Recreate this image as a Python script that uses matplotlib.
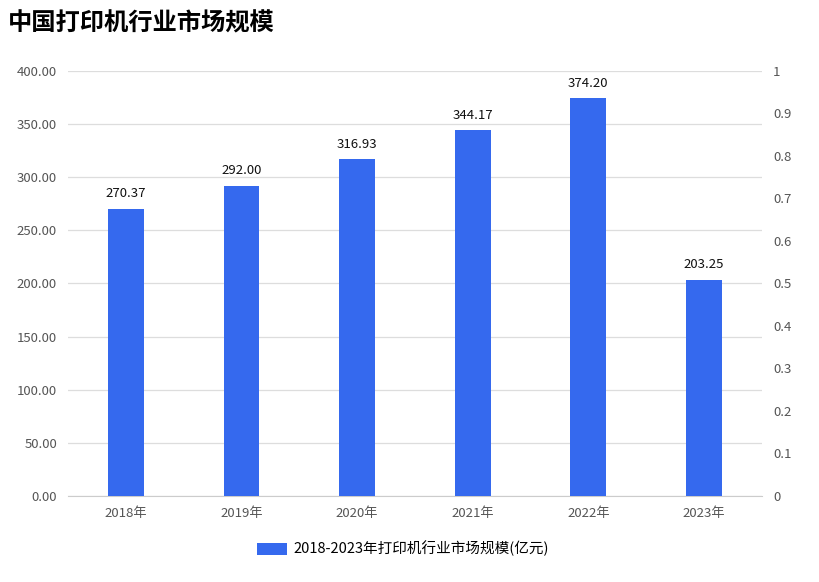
import matplotlib
matplotlib.use('Agg')
import matplotlib.pyplot as plt
import numpy as np

plt.rcParams['font.family'] = ['Noto Sans CJK SC', 'DejaVu Sans']

years = ['2018年', '2019年', '2020年', '2021年', '2022年', '2023年']
market = [270.37, 292.00, 316.93, 344.17, 374.20, 203.25]
series_name = '2018-2023年打印机行业市场规模(亿元)'
title = '中国打印机行业市场规模'

fig = plt.figure(figsize=(8.2, 5.82), dpi=100)
ax = fig.add_axes([0.083, 0.148, 0.846, 0.73])
ax2 = ax.twinx()

x = np.arange(len(years))
bars = ax.bar(x, market, width=0.31, color='#3569EE', zorder=3, label=series_name)
for xi, v in zip(x, market):
    ax.text(xi, v + 8, f'{v:.2f}', ha='center', va='bottom', fontsize=9.5, color='#111111')

ax.set_xlim(-0.5, len(years) - 0.5)
ax.set_ylim(0, 400)
ax.set_yticks(np.arange(0, 401, 50))
ax.set_yticklabels([f'{v:.2f}' for v in np.arange(0, 401, 50)], fontsize=9.5, color='#555555')
ax.set_xticks(x)
ax.set_xticklabels(years, fontsize=9.5, color='#555555')
ax.grid(axis='y', color='#dddddd', linewidth=0.9, zorder=0)
ax.tick_params(length=0, pad=8)
for s in ['top', 'left', 'right']:
    ax.spines[s].set_visible(False)
ax.spines['bottom'].set_color('#cccccc')

ax2.set_ylim(0, 1)
ticks2 = np.round(np.arange(0, 1.01, 0.1), 1)
ax2.set_yticks(ticks2)
ax2.set_yticklabels(['0' if t == 0 else ('1' if t == 1 else f'{t:.1f}') for t in ticks2],
                    fontsize=9.5, color='#555555')
ax2.tick_params(length=0, pad=8)
for s in ax2.spines.values():
    s.set_visible(False)

fig.text(0.009, 0.96, title, fontsize=17.5, fontweight='bold', ha='left', va='center', color='black')

fig.legend(handles=[bars], labels=[series_name], loc='center', bbox_to_anchor=(0.492, 0.057),
           frameon=False, fontsize=10.5, handlelength=2.0, handleheight=0.9, handletextpad=0.5)

fig.savefig('out.png', dpi=100)
